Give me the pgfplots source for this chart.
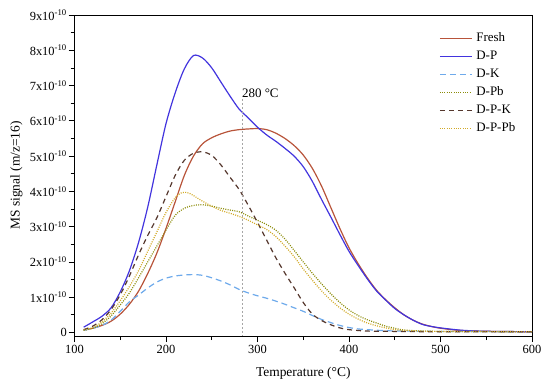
\documentclass[border=0pt]{standalone}
\usepackage{fontspec}
\setmainfont{Liberation Serif}
\usepackage{pgfplots}
\pgfplotsset{compat=1.18}
\definecolor{cFresh}{RGB}{184,84,58}
\definecolor{cDP}{RGB}{66,52,222}
\definecolor{cDK}{RGB}{110,170,235}
\definecolor{cDPb}{RGB}{140,140,10}
\definecolor{cDPK}{RGB}{85,55,45}
\definecolor{cDPPb}{RGB}{210,170,40}
\begin{document}
\begin{tikzpicture}
\begin{axis}[
  scale only axis, width=457.5bp, height=321bp,
  xmin=100, xmax=600, ymin=-0.1, ymax=9,
  axis line style={black, line width=0.8bp},
  xtick={100,200,...,600}, minor x tick num=1,
  ytick={0,1,...,9}, minor y tick num=1,
  yticklabels={0,1x10\textsuperscript{-10},2x10\textsuperscript{-10},3x10\textsuperscript{-10},4x10\textsuperscript{-10},5x10\textsuperscript{-10},6x10\textsuperscript{-10},7x10\textsuperscript{-10},8x10\textsuperscript{-10},9x10\textsuperscript{-10}},
  tick align=outside, xtick pos=bottom, ytick pos=left,
  major tick length=6bp, minor tick length=4bp,
  every tick/.style={black, line width=0.8bp},
  /pgf/number format/assume math mode=true,
  tick label style={font=\fontsize{12.5}{14}\selectfont},
  yticklabel style={inner xsep=1.5bp},
  every axis x label/.style={at={(axis description cs:0.5,-0.117)}, anchor=center},
  every axis y label/.style={at={(axis description cs:-0.127,0.5)}, rotate=90, anchor=center},
  label style={font=\fontsize{13.5}{15}\selectfont},
  xlabel={Temperature (°C)},
  ylabel={MS signal (m/z=16)},
  every axis legend/.style={at={(rel axis cs:0.7945,0.95)}, anchor=north west,
    inner sep=1bp, font=\fontsize{13}{14}\selectfont, row sep=5bp, column sep=4bp,
    nodes={inner sep=0pt, text height=9.5bp, text depth=3.5bp},
    cells={anchor=west}},
  legend image code/.code={\draw[#1] (0bp,0bp) -- (32bp,0bp);},
  every axis plot/.append style={line width=1.2bp, no marks},
]
\addplot[cFresh, smooth] coordinates {
(110,0.07)(120,0.12)(130,0.2)(140,0.32)(150,0.52)(160,0.8)(170,1.17)(180,1.67)(190,2.25)(200,2.95)(210,3.7)(220,4.45)(230,5.0)(240,5.35)(250,5.52)(260,5.63)(270,5.71)(280,5.75)(290,5.77)(300,5.78)(310,5.75)(320,5.65)(330,5.5)(340,5.3)(350,5.03)(360,4.65)(370,4.15)(380,3.55)(390,2.95)(400,2.4)(410,1.95)(420,1.55)(430,1.2)(440,0.93)(450,0.7)(460,0.5)(470,0.35)(480,0.24)(490,0.17)(500,0.12)(520,0.06)(540,0.04)(560,0.03)(600,0.02)};
\addlegendentry{Fresh}
\addplot[cDP, smooth] coordinates {
(110,0.15)(120,0.3)(130,0.46)(140,0.7)(150,1.15)(160,1.75)(170,2.55)(180,3.55)(190,4.75)(200,5.92)(210,6.79)(220,7.47)(230,7.85)(240,7.78)(250,7.5)(260,7.1)(270,6.7)(280,6.33)(290,6.08)(300,5.82)(310,5.6)(320,5.42)(330,5.22)(340,5.0)(350,4.7)(360,4.28)(370,3.77)(380,3.28)(390,2.78)(400,2.3)(410,1.9)(420,1.52)(430,1.18)(440,0.92)(450,0.68)(460,0.5)(470,0.35)(480,0.23)(490,0.17)(500,0.13)(520,0.07)(540,0.04)(560,0.03)(600,0.02)};
\addlegendentry{D-P}
\addplot[cDK, smooth, dash pattern=on 6bp off 4bp] coordinates {
(110,0.06)(120,0.12)(130,0.2)(140,0.35)(150,0.6)(160,0.87)(170,1.06)(180,1.26)(190,1.43)(200,1.54)(210,1.6)(220,1.63)(230,1.64)(240,1.62)(250,1.55)(260,1.46)(270,1.35)(280,1.22)(290,1.12)(300,1.04)(310,0.97)(320,0.89)(330,0.8)(340,0.7)(350,0.6)(360,0.48)(370,0.37)(380,0.28)(390,0.2)(400,0.14)(410,0.1)(420,0.08)(440,0.05)(460,0.04)(500,0.03)(600,0.02)};
\addlegendentry{D-K}
\addplot[cDPb, smooth, dash pattern=on 1bp off 1.3bp] coordinates {
(110,0.06)(120,0.12)(130,0.25)(140,0.47)(150,0.78)(160,1.12)(170,1.55)(180,2.0)(190,2.45)(200,2.9)(210,3.32)(220,3.52)(230,3.6)(240,3.62)(250,3.58)(260,3.52)(270,3.47)(280,3.42)(290,3.3)(300,3.18)(310,3.06)(320,2.9)(330,2.65)(340,2.33)(350,2.0)(360,1.68)(370,1.38)(380,1.1)(390,0.85)(400,0.64)(410,0.48)(420,0.36)(430,0.27)(440,0.18)(450,0.12)(460,0.07)(480,0.04)(500,0.03)(600,0.02)};
\addlegendentry{D-Pb}
\addplot[cDPK, smooth, dash pattern=on 5bp off 4bp] coordinates {
(110,0.08)(120,0.18)(130,0.36)(140,0.65)(150,1.07)(160,1.6)(170,2.2)(180,2.75)(190,3.25)(200,3.85)(210,4.45)(220,4.88)(230,5.08)(240,5.12)(250,5.02)(260,4.75)(270,4.4)(280,4.05)(290,3.6)(300,3.12)(310,2.62)(320,2.12)(330,1.68)(340,1.27)(350,0.85)(360,0.52)(370,0.34)(380,0.22)(390,0.13)(400,0.08)(420,0.04)(450,0.03)(500,0.02)(600,0.02)};
\addlegendentry{D-P-K}
\addplot[cDPPb, smooth, dash pattern=on 1bp off 1.3bp] coordinates {
(110,0.07)(120,0.14)(130,0.3)(140,0.55)(150,0.9)(160,1.3)(170,1.75)(180,2.3)(190,2.85)(200,3.4)(210,3.82)(218,3.97)(225,3.95)(230,3.88)(240,3.72)(250,3.58)(260,3.46)(270,3.38)(280,3.29)(290,3.18)(300,3.05)(310,2.92)(320,2.72)(330,2.45)(340,2.15)(350,1.8)(360,1.48)(370,1.18)(380,0.92)(390,0.7)(400,0.52)(410,0.38)(420,0.27)(430,0.19)(440,0.13)(450,0.08)(460,0.06)(480,0.04)(500,0.03)(600,0.02)};
\addlegendentry{D-P-Pb}
\addplot[gray!70, line width=0.6bp, dash pattern=on 2bp off 2bp, forget plot] coordinates {(283,6.62)(283,-0.1)};
\node[anchor=base west, inner sep=0pt, font=\fontsize{13}{14}\selectfont] at (axis cs:283,6.66) {280 °C};
\end{axis}
\pgfresetboundingbox
\path[use as bounding box] (-74.5bp,-56bp) rectangle (475.5bp,336bp);
\end{tikzpicture}
\end{document}
